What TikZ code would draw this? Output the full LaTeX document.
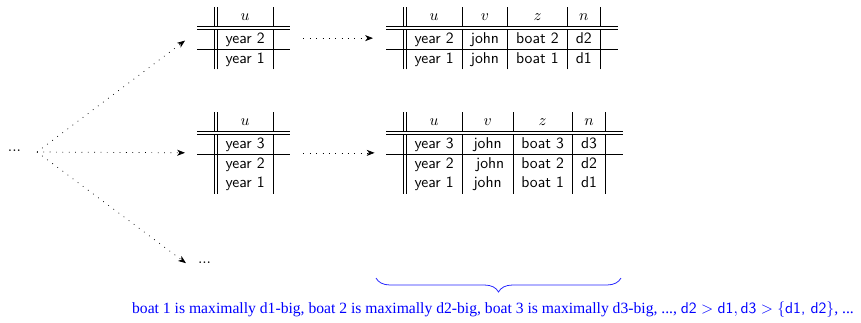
\documentclass[tikz,border=0pt]{standalone}
\usepackage{fontspec}
\newfontfamily\capfont{Liberation Serif}
\usetikzlibrary{arrows.meta,decorations.pathreplacing}
\renewcommand{\arraystretch}{1.0}
\begin{document}
\begin{tikzpicture}[x=0.7pt,y=-0.7pt,
  tbl/.style={inner sep=0pt, outer sep=0pt, anchor=north west, font=\fontsize{10.95}{13.6}\selectfont\sffamily},
  flow/.style={line width=0.5pt, dash pattern=on 0.55pt off 3.9pt, -{Stealth[length=5.5pt,width=4.2pt,inset=1.6pt]}},
  dotsnode/.style={inner sep=0pt, outer sep=0pt, font=\fontsize{10.95}{13.6}\selectfont}]
\useasboundingbox (0,0) rectangle (861,322);

\node[dotsnode] (dots0) at (14.5,151) {...};
\coordinate (src) at (37,152);

\node[tbl] (t1) at (197,7) {\begin{tabular}{c||c|c}
 & $u$ & \\ \hline\hline
 & year 2 & \\ \hline
 & year 1 &
\end{tabular}};

\node[tbl] (t2) at (386,7) {\begin{tabular}{c||c|c|c|c|c}
 & $u$ & $v$ & $z$ & $n$ & \\ \hline\hline
 & year 2 & john & boat 2 & d2 & \\ \hline
 & year 1 & john & boat 1 & d1 &
\end{tabular}};

\node[tbl] (t3) at (197,112) {\begin{tabular}{c||c|c}
 & $u$ & \\ \hline\hline
 & year 3 & \\ \hline
 & year 2 & \\
 & year 1 &
\end{tabular}};

\node[tbl] (t4) at (386,112) {\begin{tabular}{c||c|c|c|c|c}
 & $u$ & $v$ & $z$ & $n$ & \\ \hline\hline
 & year 3 & john & boat 3 & d3 & \\ \hline
 & year 2 & \ john & boat 2 & d2 & \\
 & year 1 & john & boat 1 & d1 &
\end{tabular}};

\node[dotsnode, anchor=west] (dots3) at (198,263) {...};

\draw[flow, shorten >=10.5pt] (src) -- ([yshift=4.6pt]t1.west);
\draw[flow, shorten >=8.4pt] (src) -- (t3.west);
\draw[flow, shorten >=10.5pt] (src) -- ([yshift=-6.4pt]dots3.west);

\draw[flow, shorten <=9.1pt, shorten >=9.1pt] (t1.east) -- (t2.west);
\draw[flow, shorten <=9.1pt, shorten >=8pt] (t3.east) -- (t4.west);

\coordinate (bl) at (376,278);
\coordinate (br) at (621,278);
\draw[blue!85, line width=0.55pt, decorate, decoration={brace, mirror, amplitude=9.8pt}] (bl) -- (br);

\node[text=blue, inner sep=0pt, font=\fontsize{10.95}{13.6}\selectfont\capfont] (cap) at (493,310)
 {boat 1 is maximally d1-big, boat 2 is maximally d2-big, boat 3 is maximally d3-big, ..., $\textsf{d2} > \textsf{d1}, \textsf{d3} > \{\textsf{d1, d2}\}$, ...};
\end{tikzpicture}
\end{document}
